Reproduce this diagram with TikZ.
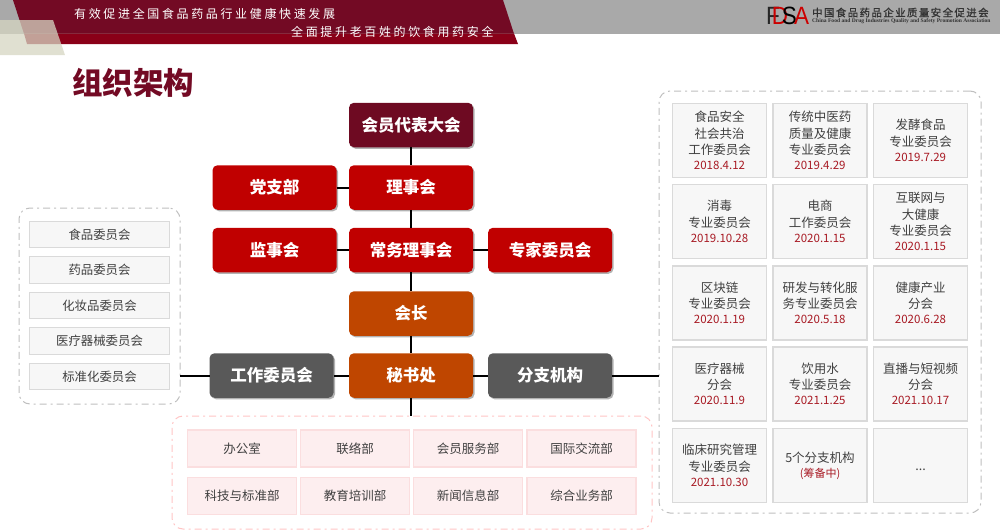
\documentclass[tikz,border=0pt]{standalone}
\usepackage{fontspec}
\usetikzlibrary{shadows,positioning}
\setmainfont{Noto Sans CJK SC}
\newfontfamily\spaced[LetterSpace=22]{Noto Sans CJK SC}
\newfontfamily\logocn[LetterSpace=14,FakeBold=1]{Noto Sans CJK SC}
\newfontfamily\logoen{Liberation Serif}
\newfontfamily\logomark{Liberation Sans}
\definecolor{wine}{HTML}{730A24}
\definecolor{winelight}{HTML}{8A0018}
\definecolor{deepwine}{HTML}{6E0A22}
\definecolor{boxred}{HTML}{C00000}
\definecolor{boxorange}{HTML}{BF4600}
\definecolor{boxgray}{HTML}{595959}
\definecolor{band}{HTML}{A9A9A9}
\definecolor{beige}{HTML}{D6D6C2}
\definecolor{datered}{HTML}{A81A24}
\definecolor{txt}{HTML}{404040}
\definecolor{cellfill}{HTML}{F7F7F7}
\definecolor{cellline}{HTML}{DADADA}
\definecolor{pinkfill}{HTML}{FDEEEF}
\definecolor{pinkline}{HTML}{FBDEDF}
\definecolor{framegray}{HTML}{BFBFBF}
\definecolor{framepink}{HTML}{FFC4C4}
\newcommand{\dt}[1]{\textcolor{datered}{\fontsize{11.5}{15}\selectfont #1}}
\tikzset{
  x=1pt,y=-1pt,
  orgbox/.style={rectangle,rounded corners=5pt,minimum width=124pt,minimum height=44.5pt,inner sep=0pt,outer sep=0pt,
    text=white,font=\bfseries\fontsize{16.5}{18}\selectfont,
    drop shadow={shadow xshift=1.5pt,shadow yshift=-1.5pt,opacity=.3,fill=black}},
  cellbox/.style={rectangle,draw=cellline,line width=1.4pt,fill=cellfill,minimum width=94pt,minimum height=74pt,inner sep=0pt,outer sep=0pt,
    align=center,text=txt,font=\fontsize{12.5}{16.5}\selectfont,execute at begin node={\rule{0pt}{15pt}}},
  sidebox/.style={rectangle,draw=cellline,line width=1.4pt,fill=cellfill,minimum width=140pt,minimum height=26.5pt,inner sep=0pt,outer sep=0pt,
    text=txt,font=\fontsize{12.4}{15}\selectfont},
  deptbox/.style={rectangle,draw=pinkline,line width=1.4pt,fill=pinkfill,minimum width=109pt,minimum height=37pt,inner sep=0pt,outer sep=0pt,
    text=txt,font=\fontsize{12.5}{15}\selectfont},
  framebox/.style={rectangle,rounded corners=11pt,line width=1pt,dash pattern=on 7pt off 4pt on 2pt off 4pt,inner sep=0pt,outer sep=0pt},
  link/.style={draw=black,line width=2pt},
}
\begin{document}
\begin{tikzpicture}
\useasboundingbox (0,0) rectangle (1000,530);
% header
\fill[band] (0,0) rectangle (1000,33.5);
\fill[wine] (13,0) -- (503,0) -- (514,33.7) -- (24,33.7) -- cycle;
\fill[winelight] (24,33.5) -- (514,33.5) -- (518,44) -- (27,44) -- cycle;
\fill[beige,opacity=.75] (0,20) -- (53,20) -- (65,55) -- (0,55) -- cycle;
\node[anchor=west,inner sep=0,text=white,font=\spaced\fontsize{12}{14}\selectfont] (slogana) at (74,13.5) {有效促进全国食品药品行业健康快速发展};
\node[anchor=west,inner sep=0,text=white,font=\spaced\fontsize{12}{14}\selectfont] (sloganb) at (291,31.5) {全面提升老百姓的饮食用药安全};
% logo
\node[anchor=west,inner sep=0,font=\logomark\fontsize{25}{25}\selectfont] (logomk) at (766,16) {\scalebox{.9}[1]{\textcolor{black!85}{F}\hspace{-9pt}\textcolor{red!80!black}{D}\hspace{-7pt}\textcolor{black}{S}\hspace{-3pt}\textcolor{red!80!black}{A}}};
\node[anchor=west,inner sep=0,text=black!80,font=\logocn\fontsize{10.4}{12}\selectfont] (logocnt) at (812,12.5) {中国食品药品企业质量安全促进会};
\node[anchor=west,inner sep=0,text=black!80,font=\logoen\bfseries\fontsize{5.55}{7}\selectfont] (logoent) at (812,21.5) {China Food and Drug Industries Quality and Safety Promotion Association};
% title
\node[anchor=west,inner sep=0,text=wine,font=\bfseries\fontsize{30.5}{33}\selectfont] (title) at (72,83) {组织架构};
% org chart
\node[orgbox,fill=deepwine] (congress) at (411,125) {会员代表大会};
\node[orgbox,fill=boxred] (council) at (411,187.5) {理事会};
\node[orgbox,fill=boxred] (party) at (274.5,187.5) {党支部};
\node[orgbox,fill=boxred] (standing) at (411,250) {常务理事会};
\node[orgbox,fill=boxred] (super) at (274.5,250) {监事会};
\node[orgbox,fill=boxred] (expert) at (550,250) {专家委员会};
\node[orgbox,fill=boxorange] (president) at (411,313.5) {会长};
\node[orgbox,fill=boxorange] (secretariat) at (411,375.5) {秘书处};
\node[orgbox,fill=boxgray] (work) at (271.5,375.5) {工作委员会};
\node[orgbox,fill=boxgray] (branch) at (550,375.5) {分支机构};
% frames
\node[framebox,draw=framegray,minimum width=161pt,minimum height=196pt] (leftframe) at (99.5,306) {};
\node[framebox,draw=framegray,minimum width=322pt,minimum height=422pt] (rightframe) at (820,302) {};
\node[framebox,draw=framepink,minimum width=480pt,minimum height=113pt] (pinkframe) at (412,472.5) {};
% connectors
\draw[link] (congress) -- (council);
\draw[link] (council) -- (standing);
\draw[link] (standing) -- (president);
\draw[link] (president) -- (secretariat);
\draw[link] (party) -- (council);
\draw[link] (super) -- (standing);
\draw[link] (standing) -- (expert);
\draw[link] (work) -- (secretariat);
\draw[link] (secretariat) -- (branch);
\draw[link] (work.west) -- (leftframe.east |- work.west);
\draw[link] (branch.east) -- (rightframe.west |- branch.east);
\draw[link] (secretariat) -- (pinkframe.north -| secretariat);
% left group
\node[sidebox] (la) at (99.5,234.5) {食品委员会};
\node[sidebox] (lb) at (99.5,270) {药品委员会};
\node[sidebox] (lc) at (99.5,305.5) {化妆品委员会};
\node[sidebox] (ld) at (99.5,341) {医疗器械委员会};
\node[sidebox] (le) at (99.5,376.5) {标准化委员会};
% departments
\node[deptbox] (da) at (242,448.5) {办公室};
\node[deptbox] (db) at (355,448.5) {联络部};
\node[deptbox] (dc) at (468,448.5) {会员服务部};
\node[deptbox] (dd) at (581.5,448.5) {国际交流部};
\node[deptbox] (de) at (242,496) {科技与标准部};
\node[deptbox] (df) at (355,496) {教育培训部};
\node[deptbox] (dg) at (468,496) {新闻信息部};
\node[deptbox] (dh) at (581.5,496) {综合业务部};
% committee cells
\node[cellbox] (ra) at (719.5,140.5) {食品安全\\社会共治\\工作委员会\\[-1.5pt]\dt{2018.4.12}};
\node[cellbox] (rb) at (820,140.5) {传统中医药\\质量及健康\\专业委员会\\[-1.5pt]\dt{2019.4.29}};
\node[cellbox] (rc) at (920.5,140.5) {发酵食品\\专业委员会\\[-1.5pt]\dt{2019.7.29}};
\node[cellbox] (rd) at (719.5,221.5) {消毒\\专业委员会\\[-1.5pt]\dt{2019.10.28}};
\node[cellbox] (re) at (820,221.5) {电商\\工作委员会\\[-1.5pt]\dt{2020.1.15}};
\node[cellbox] (rf) at (920.5,221.5) {互联网与\\大健康\\专业委员会\\[-1.5pt]\dt{2020.1.15}};
\node[cellbox] (rg) at (719.5,303) {区块链\\专业委员会\\[-1.5pt]\dt{2020.1.19}};
\node[cellbox] (rh) at (820,303) {研发与转化服\\务专业委员会\\[-1.5pt]\dt{2020.5.18}};
\node[cellbox] (ri) at (920.5,303) {健康产业\\分会\\[-1.5pt]\dt{2020.6.28}};
\node[cellbox] (rj) at (719.5,384) {医疗器械\\分会\\[-1.5pt]\dt{2020.11.9}};
\node[cellbox] (rk) at (820,384) {饮用水\\专业委员会\\[-1.5pt]\dt{2021.1.25}};
\node[cellbox] (rl) at (920.5,384) {直播与短视频\\分会\\[-1.5pt]\dt{2021.10.17}};
\node[cellbox] (rm) at (719.5,465.5) {临床研究管理\\专业委员会\\[-1.5pt]\dt{2021.10.30}};
\node[cellbox] (rn) at (820,465.5) {5个分支机构\\[-1.5pt]\textcolor{datered}{\fontsize{11}{14}\selectfont (筹备中)}};
\node[cellbox] (ro) at (920.5,465.5) {\raisebox{3pt}{...}};
\end{tikzpicture}
\end{document}
